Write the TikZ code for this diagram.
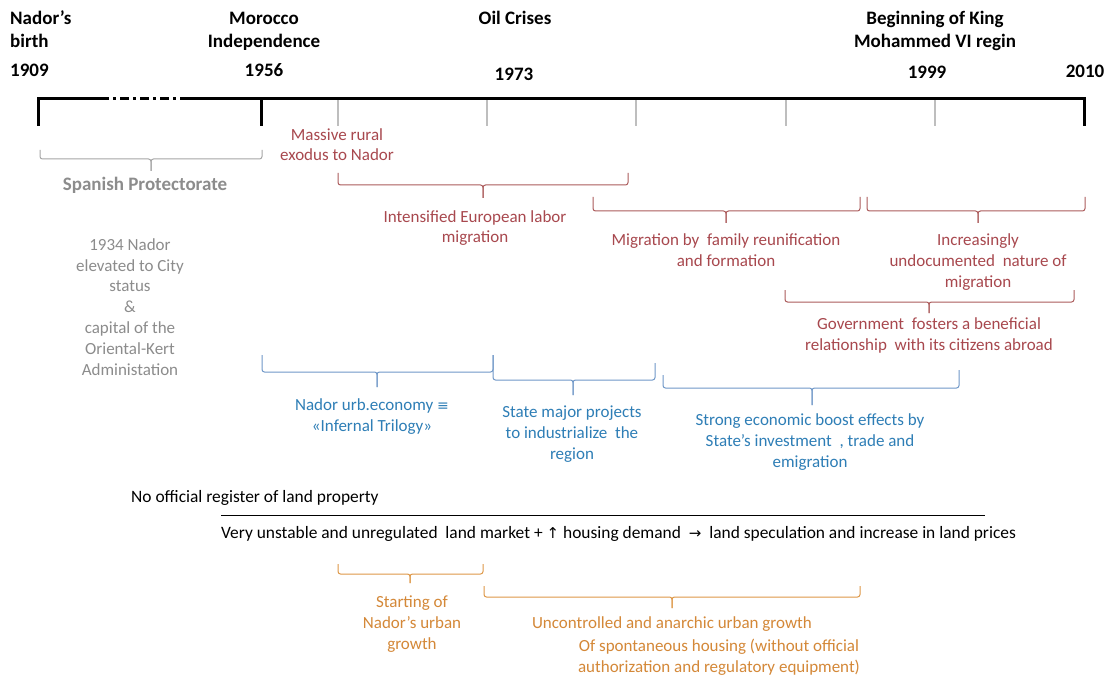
\documentclass[tikz,border=0pt]{standalone}
\usepackage{fontspec}
\setmainfont{Carlito}
\newfontfamily\symfont{DejaVu Sans}
\definecolor{greyT}{RGB}{140,140,140}
\definecolor{greyL}{RGB}{165,165,165}
\definecolor{tickL}{RGB}{190,190,190}
\definecolor{redT}{RGB}{168,72,78}
\definecolor{redL}{RGB}{172,92,92}
\definecolor{blueT}{RGB}{46,126,182}
\definecolor{blueL}{RGB}{112,152,200}
\definecolor{orangeT}{RGB}{212,136,56}
\definecolor{orangeL}{RGB}{222,152,72}
% bracket: [style]{x left}{x tip}{x right}{y left end}{y right end}{y bar}{y tip}
\newcommand\tlbrace[8][]{%
  \draw[#1] (#2,#5) -- (#2,#7) -- (#3,#7) -- (#3,#8);
  \draw[#1] (#3,#8) -- (#3,#7) -- (#4,#7) -- (#4,#6);
}
\begin{document}
\begin{tikzpicture}[x=1pt,y=-1pt,
  txt/.style={inner sep=0pt, font=\fontsize{17}{20.8}\selectfont, align=center, anchor=base},
  head/.style={inner sep=0pt, font=\fontsize{19}{23}\selectfont\bfseries, align=center, anchor=base},
  greyhead/.style={head, text=greyT},
  greytxt/.style={txt, text=greyT},
  redtxt/.style={txt, text=redT},
  bluetxt/.style={txt, text=blueT},
  orangetxt/.style={txt, text=orangeT},
  blacktxt/.style={txt, font=\fontsize{17.4}{20.8}\selectfont, text=black, anchor=base west},
  axis/.style={line width=3pt, black},
  minor/.style={line width=1.2pt, tickL},
  brk/.style={line width=1pt, rounded corners=2.5pt},
  greybrk/.style={brk, greyL},
  redbrk/.style={brk, redL},
  bluebrk/.style={brk, blueL},
  orangebrk/.style={brk, orangeL}]
\useasboundingbox (0,0) rectangle (1111,679);
\fill[white] (0,0) rectangle (1111,679);

% time axis
\coordinate (a0) at (38,98.5);
\coordinate (a1) at (100,98.5);
\coordinate (a2) at (186,98.5);
\coordinate (a1956) at (261.5,98.5);
\coordinate (aend) at (1084,98.5);
\foreach \x in {338,487,636,786,935} \draw[minor] (\x,98.5) -- (\x,126);
\draw[axis] (38,126) -- (a0) -- (a1);
\draw[axis, dash pattern=on 9pt off 4pt on 3pt off 4pt] (a1) -- (a2);
\draw[axis] (a2) -- (aend) -- (1084,126);
\draw[axis] (a1956) -- (261.5,126);

% dates and events (multi-line nodes sit on their last baseline)
\node[head, align=left, anchor=base west] (birth) at (10,48) {Nador’s\\birth};
\node[head] (indep) at (264,48) {Morocco\\Independence};
\node[head] (oil) at (515,25) {Oil Crises};
\node[head] (king) at (935,48) {Beginning of King\\Mohammed VI regin};
\node[head, anchor=base west] (y1909) at (10,77) {1909};
\node[head] (y1956) at (264,77) {1956};
\node[head] (y1973) at (514,81) {1973};
\node[head] (y1999) at (927,79) {1999};
\node[head] (y2010) at (1085,78) {2010};

% protectorate period
\tlbrace[greybrk]{40}{151}{262}{150}{150}{159}{171}
\node[greyhead] (spanish) at (145,191) {Spanish Protectorate};
\node[greytxt] (city) at (130,375) {1934 Nador\\elevated to City\\status\\\&\\capital of the\\Oriental-Kert\\Administation};

% migration
\node[redtxt] (exodus) at (337,161) {Massive rural\\exodus to Nador};
\tlbrace[redbrk]{338}{483}{628}{173}{173}{185}{198}
\node[redtxt] (labor) at (475,243) {Intensified European labor\\migration};
\tlbrace[redbrk]{593}{726}{860}{197}{197}{211}{223}
\node[redtxt] (family) at (726,266) {Migration by\ \ family reunification\\and formation};
\tlbrace[redbrk]{867}{978}{1085}{197}{197}{211}{223}
\node[redtxt] (undoc) at (978,287) {Increasingly\\undocumented\ \ nature of\\migration};
\tlbrace[redbrk]{785}{929}{1074}{290}{290}{302}{313}
\node[redtxt] (gov) at (929,350) {Government\ \ fosters a beneficial\\relationship\ \ with its citizens abroad};

% economy
\tlbrace[bluebrk]{262}{377}{493}{355}{355}{372}{387}
\node[bluetxt] (urb) at (372,431) {Nador urb.economy {\symfont\fontsize{14}{16}\selectfont ≡}\\«Infernal Trilogy»};
\tlbrace[bluebrk]{493}{573}{655}{355}{363}{380}{395}
\node[bluetxt] (state) at (572,459) {State major projects\\to industrialize\ \ the\\region};
\tlbrace[bluebrk]{663}{812}{959}{375}{370}{388}{405}
\node[bluetxt] (boost) at (810,467) {Strong economic boost effects by\\State’s investment\ \ , trade and\\emigration};

% land market
\node[blacktxt] (register) at (131,502) {No official register of land property};
\coordinate (ruleL) at (221,515);
\coordinate (ruleR) at (985,515);
\draw[line width=0.8pt] (ruleL) -- (ruleR);
\node[blacktxt] (market) at (221,538) {Very unstable and unregulated\ \ land market + {\symfont\fontsize{15}{16}\selectfont ↑} housing demand\ \ {\symfont\fontsize{15}{16}\selectfont →}\ \ land speculation and increase in land prices};

% urban growth
\tlbrace[orangebrk]{338}{410}{483}{564}{564}{574}{583}
\node[orangetxt] (start) at (412,649) {Starting of\\Nador’s urban\\growth};
\tlbrace[orangebrk]{484}{672}{860}{586}{586}{597}{608}
\node[orangetxt] (uncontrolled) at (672,628) {Uncontrolled and anarchic urban growth};
\node[orangetxt] (spont) at (719,672) {Of spontaneous housing (without official\\authorization and regulatory equipment)};
\end{tikzpicture}
\end{document}
